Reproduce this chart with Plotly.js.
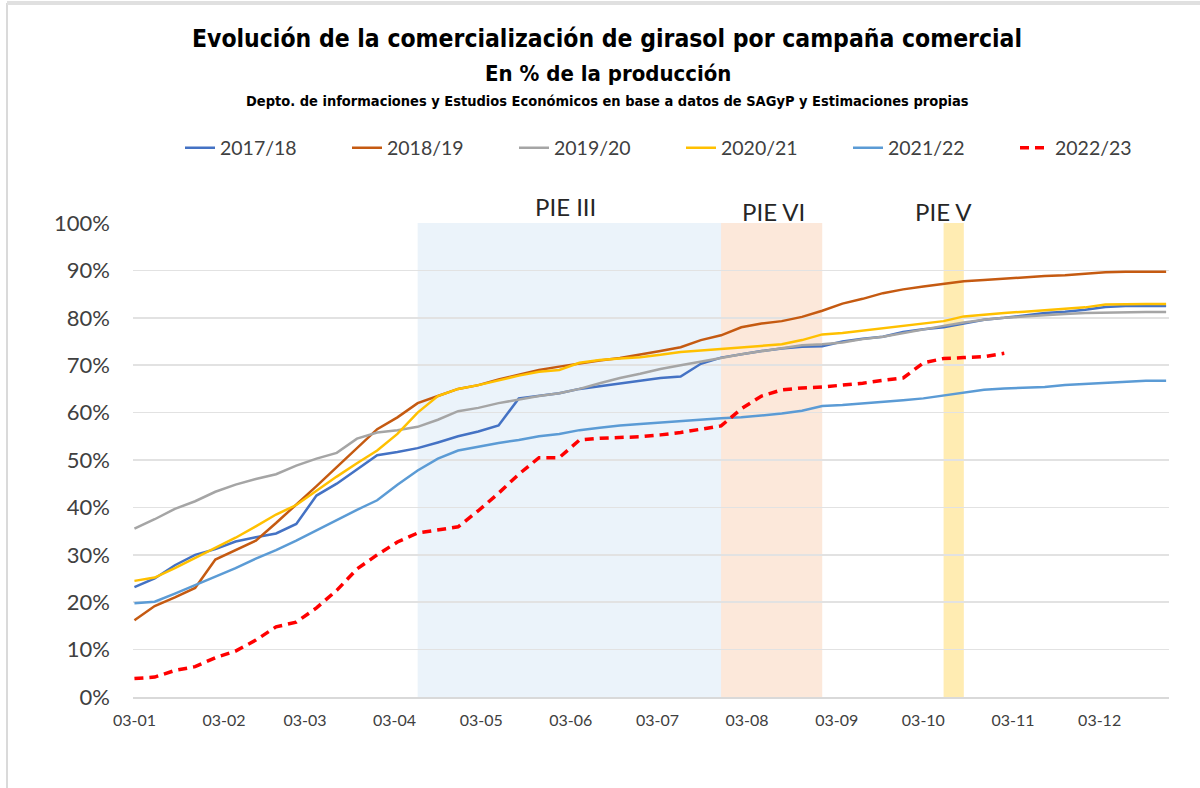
<!DOCTYPE html>
<html>
<head>
<meta charset="utf-8">
<script src="https://cdn.plot.ly/plotly-3.0.1.min.js"></script>
<style>html,body{margin:0;padding:0;background:#fff;}#chart{width:1200px;height:788px;}</style>
</head>
<body>
<div id="chart"></div>
<script>
// Weekly dates (day-month axis, 03-01 = 3 January)
const weeks = [
 '2023-01-03','2023-01-10','2023-01-17','2023-01-24','2023-01-31',
 '2023-02-07','2023-02-14','2023-02-21','2023-02-28',
 '2023-03-07','2023-03-14','2023-03-21','2023-03-28',
 '2023-04-04','2023-04-11','2023-04-18','2023-04-25',
 '2023-05-02','2023-05-09','2023-05-16','2023-05-23','2023-05-30',
 '2023-06-06','2023-06-13','2023-06-20','2023-06-27',
 '2023-07-04','2023-07-11','2023-07-18','2023-07-25',
 '2023-08-01','2023-08-08','2023-08-15','2023-08-22','2023-08-29',
 '2023-09-05','2023-09-12','2023-09-19','2023-09-26',
 '2023-10-03','2023-10-10','2023-10-17','2023-10-24','2023-10-31',
 '2023-11-07','2023-11-14','2023-11-21','2023-11-28',
 '2023-12-05','2023-12-12','2023-12-19','2023-12-26'
];

const seriesNames = ['2017/18','2018/19','2019/20','2020/21','2021/22','2022/23'];

// % of production commercialised
const v2017 = [23.2,25.0,27.8,30.0,31.2,32.8,33.7,34.5,36.5,42.5,45.0,48.0,51.0,51.7,52.5,53.7,55.0,56.0,57.3,63.0,63.5,64.1,65.0,65.6,66.2,66.8,67.3,67.6,70.3,71.6,72.3,73.0,73.5,73.9,74.0,75.0,75.6,76.0,77.0,77.6,78.0,78.8,79.6,80.0,80.5,81.0,81.3,81.7,82.3,82.5,82.5,82.5];
const v2018 = [16.2,19.2,21.0,23.0,29.0,31.0,33.0,36.7,40.5,44.5,48.5,52.5,56.5,59.0,62.0,63.5,65.0,65.8,67.0,68.0,69.0,69.7,70.4,71.0,71.5,72.2,73.0,73.8,75.3,76.3,78.0,78.8,79.3,80.2,81.5,83.0,84.0,85.2,86.0,86.6,87.2,87.7,88.0,88.3,88.5,88.8,89.0,89.3,89.6,89.7,89.7,89.7];
const v2019 = [35.5,37.5,39.7,41.3,43.3,44.8,46.0,47.0,48.8,50.3,51.5,54.5,55.8,56.3,57.0,58.5,60.3,61.0,62.0,62.8,63.5,64.1,65.0,66.2,67.3,68.2,69.2,70.0,70.7,71.5,72.3,73.0,73.6,74.2,74.4,74.8,75.5,76.0,76.8,77.5,78.3,79.0,79.6,80.0,80.3,80.6,80.8,81.0,81.1,81.2,81.2,81.2];
const v2020 = [24.5,25.2,27.2,29.3,31.5,33.6,36.0,38.5,40.5,43.5,46.5,49.3,52.0,55.5,60.0,63.5,65.0,65.8,66.8,67.8,68.6,69.0,70.5,71.1,71.4,71.7,72.2,72.8,73.1,73.4,73.7,74.0,74.4,75.3,76.5,76.8,77.3,77.7,78.2,78.7,79.3,80.3,80.7,81.0,81.3,81.6,81.9,82.2,82.8,82.9,82.9,82.9];
const v2021 = [19.8,20.1,21.8,23.6,25.3,27.2,29.2,31.0,33.0,35.2,37.3,39.5,41.5,44.8,47.8,50.3,52.0,52.8,53.6,54.2,55.0,55.5,56.3,56.8,57.3,57.6,57.9,58.2,58.6,58.8,59.0,59.4,59.8,60.4,61.4,61.6,61.9,62.3,62.6,63.0,63.6,64.2,64.8,65.1,65.3,65.4,65.8,66.0,66.2,66.5,66.7,66.7];
const v2022 = [3.9,4.2,5.6,6.4,8.3,9.7,12.0,14.8,15.8,18.8,22.5,27.0,30.0,32.7,34.6,35.3,35.9,39.3,43.0,47.0,50.5,50.5,54.2,54.6,54.7,54.9,55.3,55.8,56.5,57.2,60.8,63.5,64.8,65.2,65.4,65.8,66.2,66.8,67.3,70.5,71.4,71.6,71.8,72.5];

// Programme periods (PIE)
const pieNames  = ['PIE III','PIE VI','PIE V'];
const pieStart  = ['2023-04-11','2023-07-25','2023-10-10'];
const pieEnd    = ['2023-07-25','2023-08-29','2023-10-17'];

const colors = ['#4472C4','#C55A11','#A5A5A5','#FFC000','#5B9BD5','#FF0000'];
const values = [v2017,v2018,v2019,v2020,v2021,v2022];

const traces = values.map((v,k)=>({
  type:'scatter', mode:'lines', name:seriesNames[k],
  x: weeks.slice(0, v.length), y: v,
  line:{color:colors[k], width: k===5 ? 3.5 : 2.5, dash: k===5 ? '9px,6px' : 'solid'},
  hoverinfo:'x+y+name'
}));

const bandColors = ['rgba(221,235,247,0.6)','rgba(248,203,173,0.45)','rgba(255,217,102,0.5)'];
const shapes = pieNames.map((n,k)=>({
  type:'rect', xref:'x', yref:'paper', x0:pieStart[k], x1:pieEnd[k], y0:0, y1:1,
  fillcolor:bandColors[k], line:{width:0}, layer:'below'
}));
// picture frame lines
shapes.push({type:'line', xref:'paper', yref:'paper', x0:(7-133)/1036, x1:(7-133)/1036, y0:-0.2, y1:1+(223-3)/474, line:{color:'#DADADA', width:2}});
shapes.push({type:'line', xref:'paper', yref:'paper', x0:(7-133)/1036, x1:1.1, y0:1+(223-3)/474, y1:1+(223-3)/474, line:{color:'#E0E0E0', width:4}});

const narrow = 'DejaVu Sans Condensed, Liberation Sans Narrow, Arial Narrow, sans-serif';
const body = 'Lato, Carlito, Open Sans, sans-serif';

const annotations = [
  {text:'<b>En % de la producción</b>', xref:'paper', yref:'paper', x:(608-133)/1036, y:1+(223-73)/474, showarrow:false, font:{family:narrow, size:22, color:'#000'}, xanchor:'center', yanchor:'middle'},
  {text:'<b>Depto. de informaciones y Estudios Económicos en base a datos de SAGyP y Estimaciones propias</b>', xref:'paper', yref:'paper', x:(607-133)/1036, y:1+(223-101)/474, showarrow:false, font:{family:narrow, size:14.5, color:'#000'}, xanchor:'center', yanchor:'middle'},
  {text:pieNames[0], xref:'x', yref:'paper', x:'2023-06-01', y:1+(223-206)/474, showarrow:false, font:{family:body, size:24, color:'#262626'}, xanchor:'center', yanchor:'middle'},
  {text:pieNames[1], xref:'x', yref:'paper', x:'2023-08-12', y:1+(223-211)/474, showarrow:false, font:{family:body, size:24, color:'#262626'}, xanchor:'center', yanchor:'middle'},
  {text:pieNames[2], xref:'x', yref:'paper', x:'2023-10-10', y:1+(223-212)/474, showarrow:false, font:{family:body, size:24, color:'#262626'}, xanchor:'center', yanchor:'middle'}
];

const layout = {
  width:1200, height:788,
  margin:{l:133, r:31, t:223, b:91},
  paper_bgcolor:'#fff', plot_bgcolor:'rgba(0,0,0,0)',
  title:{text:'<b>Evolución de la comercialización de girasol por campaña comercial</b>',
         x:607/1200, xanchor:'center', y:1-38/788, yanchor:'middle', yref:'container', xref:'container',
         font:{family:narrow, size:24.5, color:'#000'}},
  showlegend:true,
  legend:{orientation:'h', x:(180-133)/1036, xanchor:'left', y:1+(223-148)/474, yanchor:'middle',
          font:{family:body, size:19.5, color:'#404040'}, entrywidth:122, entrywidthmode:'pixels',
          bgcolor:'rgba(0,0,0,0)'},
  xaxis:{type:'date', range:['2023-01-02 12:00','2023-12-27'], tick0:'2023-01-03', dtick:'M1',
         tickformat:'%d-%m', showgrid:false, showline:true, linecolor:'#D9D9D9', linewidth:2,
         ticks:'', ticklabelstandoff:8, tickfont:{family:body, size:16, color:'#404040'}, zeroline:false},
  yaxis:{range:[0,100], dtick:10, ticksuffix:'%', showgrid:true, gridcolor:'#E2E2E2', gridwidth:1.5,
         zeroline:false, showline:false, ticks:'', ticklabelstandoff:22,
         tickfont:{family:body, size:22, color:'#404040'}},
  shapes:shapes, annotations:annotations
};

Plotly.newPlot('chart', traces, layout, {displayModeBar:false, staticPlot:true});
</script>
</body>
</html>
